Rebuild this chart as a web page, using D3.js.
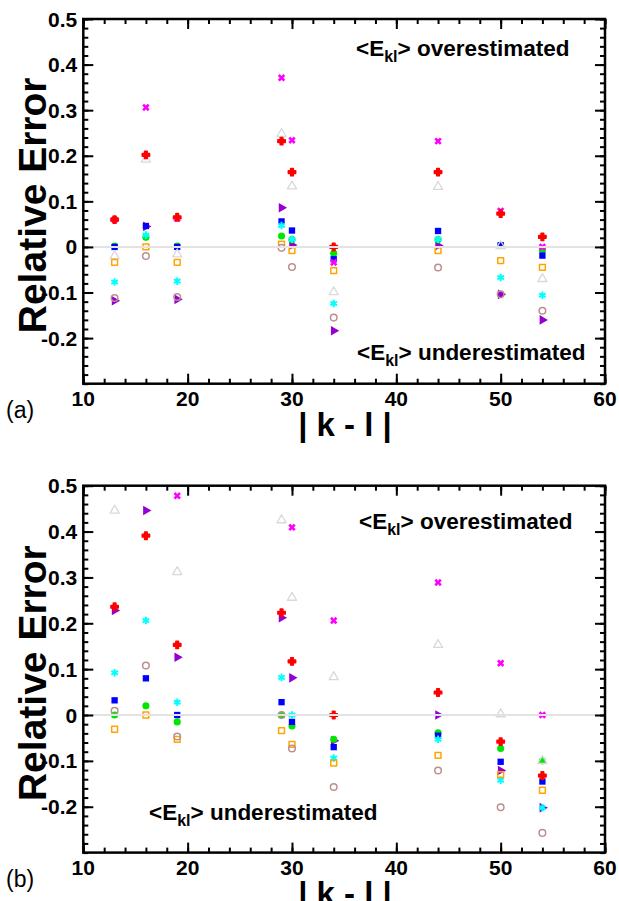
<!DOCTYPE html>
<html>
<head>
<meta charset="utf-8">
<script src="https://cdn.jsdelivr.net/npm/d3@7"></script>
<style>
  body { margin: 0; background: #fff; }
  svg text { font-family: "Liberation Sans", Arial, Helvetica, sans-serif; }
</style>
</head>
<body>
<svg id="chart" width="619" height="901"></svg>
<script>
// x positions |k - l|
const kl = [13, 16, 19, 29, 30, 34, 44, 50, 54];

// panel (a) relative errors, one array per series (null = not shown)
const aMagenta = [0.060, 0.306, 0.062, 0.371, 0.234, -0.034, 0.232, 0.079, 0.000];
const aRed     = [0.060, 0.202, 0.065, 0.232, 0.164, 0.000, 0.164, 0.073, 0.022];
const aGray    = [-0.020, 0.192, -0.016, 0.248, 0.133, -0.099, 0.132, 0.002, -0.070];
const aBlue    = [0.000, 0.046, 0.000, 0.056, 0.036, -0.027, 0.035, 0.004, -0.019];
const aGreen   = [0.002, 0.021, 0.002, 0.024, 0.016, -0.014, 0.016, 0.003, -0.008];
const aCyan    = [-0.077, 0.026, -0.075, 0.047, 0.017, -0.124, 0.017, -0.067, -0.106];
const aOrange  = [-0.034, 0.000, -0.034, 0.006, -0.008, -0.052, -0.008, -0.030, -0.045];
const aRosy    = [-0.112, -0.020, -0.110, -0.002, -0.044, -0.155, -0.045, -0.104, -0.140];
const aPurple  = [-0.118, 0.045, -0.115, 0.086, 0.004, -0.184, 0.003, -0.104, -0.160];

// panel (b)
const bMagenta = [null, null, 0.478, null, 0.409, 0.206, 0.289, 0.113, 0.000];
const bRed     = [0.236, 0.391, 0.153, 0.223, 0.117, 0.000, 0.049, -0.058, -0.132];
const bGray    = [0.446, null, 0.312, 0.425, 0.256, 0.083, 0.153, 0.002, -0.100];
const bBlue    = [0.032, 0.080, 0.000, 0.028, -0.015, -0.070, -0.045, -0.102, -0.145];
const bGreen   = [0.000, 0.020, -0.015, 0.000, -0.024, -0.053, -0.039, -0.073, -0.100];
const bCyan    = [0.092, 0.206, 0.028, 0.082, 0.000, -0.094, -0.053, -0.142, -0.202];
const bOrange  = [-0.031, 0.000, -0.053, -0.034, -0.064, -0.105, -0.088, -0.130, -0.164];
const bRosy    = [0.009, 0.108, -0.047, 0.000, -0.073, -0.157, -0.121, -0.201, -0.257];
const bPurple  = [0.228, 0.446, 0.126, 0.212, 0.081, -0.056, 0.000, -0.121, -0.202];

const xTicks = [10, 20, 30, 40, 50, 60];
const yTicks = [0.5, 0.4, 0.3, 0.2, 0.1, 0, -0.1, -0.2];
const yTickLabels = ["0.5", "0.4", "0.3", "0.2", "0.1", "0", "-0.1", "-0.2"];

// marker styles, drawn in this order
const styles = {
  purple:  { symbol: d3.symbolTriangle, size: 40, fill: "#9400d3", stroke: "none", rotate: 90 },
  green:   { symbol: d3.symbolCircle, size: 40, fill: "#00e600", stroke: "none" },
  blue:    { symbol: d3.symbolSquare, size: 40, fill: "#0000ff", stroke: "none" },
  gray:    { symbol: d3.symbolTriangle, size: 36, fill: "none", stroke: "#d9d9d9", sw: 1.3 },
  cyan:    { symbol: d3.symbolAsterisk, size: 40, fill: "none", stroke: "#00ffff", sw: 2 },
  orange:  { symbol: d3.symbolSquare, size: 34, fill: "none", stroke: "#ffa500", sw: 1.5 },
  rosy:    { symbol: d3.symbolCircle, size: 34, fill: "none", stroke: "#bc8f8f", sw: 1.5 },
  magenta: { symbol: d3.symbolCross, size: 34, fill: "#ff00ff", stroke: "none", rotate: 45 },
  red:     { symbol: d3.symbolCross, size: 28, fill: "#ff0000", stroke: "#ff0000", sw: 1.8 }
};

const svg = d3.select("#chart");
const left = 83.3, right = 605;

function panel(top, bottom, series, label, over, under) {
  const x = d3.scaleLinear().domain([10, 60]).range([left, right]);
  const y = d3.scaleLinear().domain([-0.3, 0.5]).range([bottom, top]);
  const g = svg.append("g");

  // markers
  Object.keys(styles).forEach(key => {
    const st = styles[key];
    const pts = kl.map((k, i) => [k, series[key][i]]).filter(d => d[1] !== null);
    g.selectAll(null).data(pts).enter().append("path")
      .attr("d", d3.symbol().type(st.symbol).size(st.size))
      .attr("transform", d => `translate(${x(d[0])},${y(d[1])}) rotate(${st.rotate || 0})`)
      .attr("fill", st.fill)
      .attr("stroke", st.stroke)
      .attr("stroke-width", st.sw || 0)
      .attr("stroke-linejoin", "round");
  });

  // zero line
  g.append("line")
    .attr("x1", left).attr("x2", right)
    .attr("y1", y(0)).attr("y2", y(0))
    .attr("stroke", "#e3e3e3").attr("stroke-width", 2);

  // axes with inward ticks on all four sides
  const minorX = d3.range(10, 60.1, 2);
  const minorY = d3.range(-0.3, 0.501, 0.02);
  const ax = [
    { gen: d3.axisBottom(x), tr: `translate(0,${bottom})`, minor: minorX, major: xTicks },
    { gen: d3.axisTop(x), tr: `translate(0,${top})`, minor: minorX, major: xTicks },
    { gen: d3.axisLeft(y), tr: `translate(${left},0)`, minor: minorY, major: yTicks },
    { gen: d3.axisRight(y), tr: `translate(${right},0)`, minor: minorY, major: yTicks }
  ];
  ax.forEach(a => {
    [[a.minor, 5], [a.major, 10]].forEach(([vals, len]) => {
      const ag = g.append("g").attr("transform", a.tr)
        .call(a.gen.tickValues(vals).tickSize(-len).tickFormat(""));
      ag.select(".domain").remove();
      ag.selectAll("line").attr("stroke", "#000").attr("stroke-width", 2);
    });
  });
  g.append("rect")
    .attr("x", left).attr("y", top)
    .attr("width", right - left).attr("height", bottom - top)
    .attr("fill", "none").attr("stroke", "#000").attr("stroke-width", 2.5);

  // tick labels
  g.selectAll(null).data(xTicks).enter().append("text")
    .attr("x", d => x(d)).attr("y", bottom + 22)
    .attr("text-anchor", "middle")
    .attr("font-size", 21).attr("font-weight", "bold")
    .text(d => d);
  g.selectAll(null).data(yTicks).enter().append("text")
    .attr("x", left - 6).attr("y", d => y(d) + 7.5)
    .attr("text-anchor", "end")
    .attr("font-size", 21).attr("font-weight", "bold")
    .text((d, i) => yTickLabels[i]);

  // axis titles
  g.append("text")
    .attr("transform", `translate(46,${(top + bottom) / 2 + 4}) rotate(-90)`)
    .attr("text-anchor", "middle")
    .attr("font-size", 39).attr("font-weight", "bold")
    .text("Relative Error");
  g.append("text")
    .attr("x", 345).attr("y", bottom + 52)
    .attr("text-anchor", "middle")
    .attr("font-size", 33).attr("font-weight", "bold")
    .text("| k - l |");
  g.append("text")
    .attr("x", 6).attr("y", bottom + 34)
    .attr("font-size", 23)
    .text(label);

  // annotations
  [over, under].forEach(t => {
    const tx = g.append("text")
      .attr("x", t.x).attr("y", t.y)
      .attr("font-size", 22.5).attr("font-weight", "bold");
    tx.append("tspan").text("<E");
    tx.append("tspan").attr("font-size", 16).attr("dy", 6).text("kl");
    tx.append("tspan").attr("dy", -6).text("> " + t.text);
  });
}

panel(19, 383.7,
  { magenta: aMagenta, red: aRed, gray: aGray, blue: aBlue, green: aGreen,
    cyan: aCyan, orange: aOrange, rosy: aRosy, purple: aPurple },
  "(a)",
  { x: 356, y: 56, text: "overestimated" },
  { x: 357, y: 360, text: "underestimated" });

panel(485.7, 852.6,
  { magenta: bMagenta, red: bRed, gray: bGray, blue: bBlue, green: bGreen,
    cyan: bCyan, orange: bOrange, rosy: bRosy, purple: bPurple },
  "(b)",
  { x: 359, y: 529, text: "overestimated" },
  { x: 149, y: 820, text: "underestimated" });
</script>
</body>
</html>
